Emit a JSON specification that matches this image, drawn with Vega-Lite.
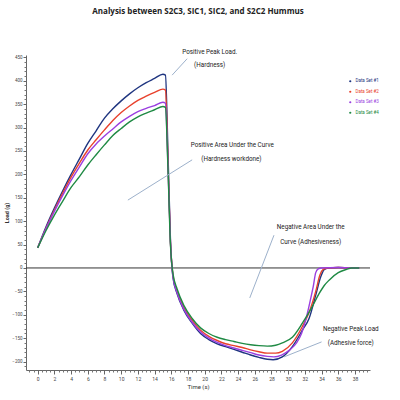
{
  "$schema": "https://vega.github.io/schema/vega-lite/v6.json",
  "autosize": "none",
  "width": 344,
  "height": 315,
  "padding": {"left": 26, "top": 55, "right": 30, "bottom": 30},
  "background": "white",
  "title": {"text": "Analysis between S2C3, SIC1, SIC2, and S2C2 Hummus", "fontSize": 8, "fontWeight": "bold", "font": "Open Sans, Roboto, sans-serif", "color": "#222", "offset": 33, "anchor": "middle"},
  "config": {"view": {"stroke": null}, "font": "Roboto, sans-serif"},
  "resolve": {"axis": {"x": "independent", "y": "independent"}},
  "datasets": {
    "curves": [
      {"t": 0, "load": 43, "set": "Data Set #1"}, {"t": 1, "load": 88, "set": "Data Set #1"}, {"t": 2, "load": 128, "set": "Data Set #1"}, {"t": 3, "load": 165, "set": "Data Set #1"}, {"t": 4, "load": 200, "set": "Data Set #1"}, {"t": 5, "load": 233, "set": "Data Set #1"}, {"t": 6, "load": 266, "set": "Data Set #1"}, {"t": 7, "load": 293, "set": "Data Set #1"}, {"t": 8, "load": 320, "set": "Data Set #1"}, {"t": 9, "load": 340, "set": "Data Set #1"}, {"t": 10, "load": 357, "set": "Data Set #1"}, {"t": 11, "load": 372, "set": "Data Set #1"}, {"t": 12, "load": 385, "set": "Data Set #1"}, {"t": 13, "load": 396, "set": "Data Set #1"}, {"t": 14, "load": 405, "set": "Data Set #1"}, {"t": 15, "load": 414, "set": "Data Set #1"}, {"t": 15.3, "load": 412, "set": "Data Set #1"}, {"t": 15.6, "load": 250, "set": "Data Set #1"}, {"t": 15.9, "load": 60, "set": "Data Set #1"}, {"t": 16.2, "load": -20, "set": "Data Set #1"}, {"t": 16.7, "load": -55, "set": "Data Set #1"}, {"t": 17.5, "load": -90, "set": "Data Set #1"}, {"t": 18.5, "load": -118, "set": "Data Set #1"}, {"t": 19.5, "load": -140, "set": "Data Set #1"}, {"t": 20.5, "load": -153, "set": "Data Set #1"}, {"t": 21.5, "load": -162, "set": "Data Set #1"}, {"t": 22.5, "load": -168, "set": "Data Set #1"}, {"t": 23.5, "load": -174, "set": "Data Set #1"}, {"t": 24.5, "load": -180, "set": "Data Set #1"}, {"t": 25.5, "load": -186, "set": "Data Set #1"}, {"t": 26.5, "load": -191, "set": "Data Set #1"}, {"t": 27.5, "load": -195, "set": "Data Set #1"}, {"t": 28.2, "load": -196, "set": "Data Set #1"}, {"t": 29.3, "load": -190, "set": "Data Set #1"}, {"t": 30.5, "load": -168, "set": "Data Set #1"}, {"t": 31.7, "load": -133, "set": "Data Set #1"}, {"t": 32.5, "load": -108, "set": "Data Set #1"}, {"t": 33.3, "load": -58, "set": "Data Set #1"}, {"t": 33.9, "load": -19, "set": "Data Set #1"}, {"t": 34.3, "load": -4, "set": "Data Set #1"}, {"t": 34.8, "load": 0, "set": "Data Set #1"}, {"t": 36, "load": 1, "set": "Data Set #1"}, {"t": 37.5, "load": 0, "set": "Data Set #1"}, {"t": 38.5, "load": 0, "set": "Data Set #1"},

      {"t": 0, "load": 43, "set": "Data Set #2"}, {"t": 1, "load": 85, "set": "Data Set #2"}, {"t": 2, "load": 124, "set": "Data Set #2"}, {"t": 3, "load": 160, "set": "Data Set #2"}, {"t": 4, "load": 194, "set": "Data Set #2"}, {"t": 5, "load": 224, "set": "Data Set #2"}, {"t": 6, "load": 252, "set": "Data Set #2"}, {"t": 7, "load": 274, "set": "Data Set #2"}, {"t": 8, "load": 295, "set": "Data Set #2"}, {"t": 9, "load": 315, "set": "Data Set #2"}, {"t": 10, "load": 332, "set": "Data Set #2"}, {"t": 11, "load": 346, "set": "Data Set #2"}, {"t": 12, "load": 358, "set": "Data Set #2"}, {"t": 13, "load": 367, "set": "Data Set #2"}, {"t": 14, "load": 375, "set": "Data Set #2"}, {"t": 15, "load": 382, "set": "Data Set #2"}, {"t": 15.3, "load": 380, "set": "Data Set #2"}, {"t": 15.6, "load": 230, "set": "Data Set #2"}, {"t": 15.9, "load": 55, "set": "Data Set #2"}, {"t": 16.2, "load": -15, "set": "Data Set #2"}, {"t": 16.7, "load": -50, "set": "Data Set #2"}, {"t": 17.5, "load": -85, "set": "Data Set #2"}, {"t": 18.5, "load": -112, "set": "Data Set #2"}, {"t": 19.5, "load": -133, "set": "Data Set #2"}, {"t": 20.5, "load": -146, "set": "Data Set #2"}, {"t": 21.5, "load": -155, "set": "Data Set #2"}, {"t": 22.5, "load": -162, "set": "Data Set #2"}, {"t": 23.5, "load": -166, "set": "Data Set #2"}, {"t": 24.5, "load": -170, "set": "Data Set #2"}, {"t": 25.5, "load": -175, "set": "Data Set #2"}, {"t": 26.5, "load": -179, "set": "Data Set #2"}, {"t": 27.5, "load": -182, "set": "Data Set #2"}, {"t": 28.5, "load": -182, "set": "Data Set #2"}, {"t": 29.3, "load": -178, "set": "Data Set #2"}, {"t": 30.5, "load": -160, "set": "Data Set #2"}, {"t": 31.7, "load": -125, "set": "Data Set #2"}, {"t": 32.5, "load": -95, "set": "Data Set #2"}, {"t": 33.3, "load": -50, "set": "Data Set #2"}, {"t": 33.8, "load": -15, "set": "Data Set #2"}, {"t": 34.2, "load": -3, "set": "Data Set #2"}, {"t": 34.7, "load": 0, "set": "Data Set #2"}, {"t": 36, "load": 1, "set": "Data Set #2"}, {"t": 37.5, "load": 0, "set": "Data Set #2"}, {"t": 38.5, "load": 0, "set": "Data Set #2"},

      {"t": 0, "load": 43, "set": "Data Set #3"}, {"t": 1, "load": 84, "set": "Data Set #3"}, {"t": 2, "load": 121, "set": "Data Set #3"}, {"t": 3, "load": 155, "set": "Data Set #3"}, {"t": 4, "load": 187, "set": "Data Set #3"}, {"t": 5, "load": 216, "set": "Data Set #3"}, {"t": 6, "load": 244, "set": "Data Set #3"}, {"t": 7, "load": 265, "set": "Data Set #3"}, {"t": 8, "load": 282, "set": "Data Set #3"}, {"t": 9, "load": 297, "set": "Data Set #3"}, {"t": 10, "load": 312, "set": "Data Set #3"}, {"t": 11, "load": 324, "set": "Data Set #3"}, {"t": 12, "load": 334, "set": "Data Set #3"}, {"t": 13, "load": 341, "set": "Data Set #3"}, {"t": 14, "load": 347, "set": "Data Set #3"}, {"t": 15, "load": 354, "set": "Data Set #3"}, {"t": 15.3, "load": 352, "set": "Data Set #3"}, {"t": 15.6, "load": 220, "set": "Data Set #3"}, {"t": 15.9, "load": 55, "set": "Data Set #3"}, {"t": 16.2, "load": -18, "set": "Data Set #3"}, {"t": 16.7, "load": -53, "set": "Data Set #3"}, {"t": 17.5, "load": -88, "set": "Data Set #3"}, {"t": 18.5, "load": -116, "set": "Data Set #3"}, {"t": 19.5, "load": -137, "set": "Data Set #3"}, {"t": 20.5, "load": -150, "set": "Data Set #3"}, {"t": 21.5, "load": -159, "set": "Data Set #3"}, {"t": 22.5, "load": -166, "set": "Data Set #3"}, {"t": 23.5, "load": -171, "set": "Data Set #3"}, {"t": 24.5, "load": -176, "set": "Data Set #3"}, {"t": 25.5, "load": -181, "set": "Data Set #3"}, {"t": 26.5, "load": -186, "set": "Data Set #3"}, {"t": 27.5, "load": -189, "set": "Data Set #3"}, {"t": 28.3, "load": -190, "set": "Data Set #3"}, {"t": 29.2, "load": -186, "set": "Data Set #3"}, {"t": 30.2, "load": -175, "set": "Data Set #3"}, {"t": 31, "load": -160, "set": "Data Set #3"}, {"t": 31.6, "load": -140, "set": "Data Set #3"}, {"t": 32.2, "load": -104, "set": "Data Set #3"}, {"t": 32.7, "load": -65, "set": "Data Set #3"}, {"t": 33, "load": -40, "set": "Data Set #3"}, {"t": 33.3, "load": -10, "set": "Data Set #3"}, {"t": 33.6, "load": -2, "set": "Data Set #3"}, {"t": 34, "load": 0, "set": "Data Set #3"}, {"t": 36, "load": 1, "set": "Data Set #3"}, {"t": 37.5, "load": 0, "set": "Data Set #3"}, {"t": 38.5, "load": 0, "set": "Data Set #3"},

      {"t": 0, "load": 43, "set": "Data Set #4"}, {"t": 1, "load": 80, "set": "Data Set #4"}, {"t": 2, "load": 113, "set": "Data Set #4"}, {"t": 3, "load": 143, "set": "Data Set #4"}, {"t": 4, "load": 172, "set": "Data Set #4"}, {"t": 5, "load": 195, "set": "Data Set #4"}, {"t": 6, "load": 220, "set": "Data Set #4"}, {"t": 7, "load": 242, "set": "Data Set #4"}, {"t": 8, "load": 263, "set": "Data Set #4"}, {"t": 9, "load": 283, "set": "Data Set #4"}, {"t": 10, "load": 298, "set": "Data Set #4"}, {"t": 11, "load": 312, "set": "Data Set #4"}, {"t": 12, "load": 323, "set": "Data Set #4"}, {"t": 13, "load": 331, "set": "Data Set #4"}, {"t": 14, "load": 338, "set": "Data Set #4"}, {"t": 15, "load": 345, "set": "Data Set #4"}, {"t": 15.3, "load": 343, "set": "Data Set #4"}, {"t": 15.6, "load": 215, "set": "Data Set #4"}, {"t": 15.9, "load": 50, "set": "Data Set #4"}, {"t": 16.2, "load": -12, "set": "Data Set #4"}, {"t": 16.7, "load": -45, "set": "Data Set #4"}, {"t": 17.5, "load": -80, "set": "Data Set #4"}, {"t": 18.5, "load": -108, "set": "Data Set #4"}, {"t": 19.5, "load": -128, "set": "Data Set #4"}, {"t": 20.5, "load": -140, "set": "Data Set #4"}, {"t": 21.5, "load": -148, "set": "Data Set #4"}, {"t": 22.5, "load": -153, "set": "Data Set #4"}, {"t": 23.5, "load": -157, "set": "Data Set #4"}, {"t": 24.5, "load": -161, "set": "Data Set #4"}, {"t": 25.5, "load": -164, "set": "Data Set #4"}, {"t": 26.5, "load": -166, "set": "Data Set #4"}, {"t": 27.5, "load": -167, "set": "Data Set #4"}, {"t": 28.5, "load": -165, "set": "Data Set #4"}, {"t": 29.3, "load": -160, "set": "Data Set #4"}, {"t": 30.5, "load": -148, "set": "Data Set #4"}, {"t": 31.7, "load": -118, "set": "Data Set #4"}, {"t": 32.9, "load": -82, "set": "Data Set #4"}, {"t": 33.7, "load": -55, "set": "Data Set #4"}, {"t": 34.3, "load": -38, "set": "Data Set #4"}, {"t": 34.9, "load": -26, "set": "Data Set #4"}, {"t": 36, "load": -10, "set": "Data Set #4"}, {"t": 37, "load": -3, "set": "Data Set #4"}, {"t": 37.6, "load": 0, "set": "Data Set #4"}, {"t": 38.5, "load": 0, "set": "Data Set #4"}
    ],
    "notes": [
      {"t": 20.6, "load": 461, "label": "Positive Peak Load."},
      {"t": 20.6, "load": 434, "label": "(Hardness)"},
      {"t": 23.3, "load": 263, "label": "Positive Area Under the Curve"},
      {"t": 23.2, "load": 233, "label": "(Hardness workdone)"},
      {"t": 32.7, "load": 88, "label": "Negative Area Under the"},
      {"t": 32.7, "load": 56, "label": "Curve (Adhesiveness)"},
      {"t": 37.5, "load": -130, "label": "Negative Peak Load"},
      {"t": 37.5, "load": -160, "label": "(Adhesive force)"}
    ],
    "arrows": [
      {"t": 17.9, "load": 447, "t2": 16.1, "load2": 412},
      {"t": 18.5, "load": 231, "t2": 10.8, "load2": 145},
      {"t": 28.3, "load": 70, "t2": 25.4, "load2": -64},
      {"t": 34.0, "load": -158, "t2": 29.5, "load2": -190}
    ]
  },
  "layer": [
    {
      "data": {"values": [{"zero": 0}]},
      "mark": {"type": "rule", "color": "#333", "strokeWidth": 1},
      "encoding": {"y": {"field": "zero", "type": "quantitative", "axis": null}}
    },
    {
      "data": {"name": "curves"},
      "mark": {"type": "line", "strokeWidth": 1.4, "interpolate": "monotone"},
      "encoding": {
        "x": {"field": "t", "type": "quantitative", "scale": {"domain": [-1.4, 39.8], "nice": false, "zero": false},
          "axis": {"orient": "bottom", "values": [0,2,4,6,8,10,12,14,16,18,20,22,24,26,28,30,32,34,36,38], "labelOverlap": false, "labelFontSize": 5, "labelColor": "#444", "labelPadding": 2,
            "tickSize": 4, "tickColor": "#666", "domainColor": "#666", "grid": false,
            "title": "Time (s)", "titleFontSize": 6, "titleFontWeight": "normal", "titleColor": "#333", "titlePadding": 2}},
        "y": {"field": "load", "type": "quantitative", "scale": {"domain": [-218, 455], "nice": false, "zero": false},
          "axis": {"orient": "left", "values": [-200,-150,-100,-50,0,50,100,150,200,250,300,350,400,450], "labelOverlap": false, "labelFontSize": 4.5, "labelColor": "#444", "labelPadding": 1,
            "tickSize": 3, "tickColor": "#666", "domainColor": "#666", "grid": false,
            "title": "Load (g)", "titleFontSize": 5.5, "titleFontWeight": "bold", "titleColor": "#333", "titlePadding": 2}},
        "color": {"field": "set", "type": "nominal",
          "scale": {"domain": ["Data Set #1", "Data Set #2", "Data Set #3", "Data Set #4"], "range": ["#1f3580", "#e8412c", "#9a3fe0", "#1f8a44"]},
          "legend": {"title": null, "orient": "none", "legendX": 322, "legendY": 24, "labelFontSize": 4.5, "symbolType": "circle", "symbolSize": 5, "symbolStrokeWidth": 0, "rowPadding": 5.5, "labelOffset": 3,
            "encode": {"labels": {"update": {"fill": {"scale": "color", "field": "value"}}}, "symbols": {"update": {"fill": {"scale": "color", "field": "value"}}}}}}
      }
    },
    {
      "data": {"name": "arrows"},
      "mark": {"type": "rule", "color": "#9db1cb", "strokeWidth": 1},
      "encoding": {
        "x": {"field": "t", "type": "quantitative",
          "axis": {"orient": "bottom", "values": [-1,-0.5,0.5,1,1.5,2.5,3,3.5,4.5,5,5.5,6.5,7,7.5,8.5,9,9.5,10.5,11,11.5,12.5,13,13.5,14.5,15,15.5,16.5,17,17.5,18.5,19,19.5,20.5,21,21.5,22.5,23,23.5,24.5,25,25.5,26.5,27,27.5,28.5,29,29.5,30.5,31,31.5,32.5,33,33.5,34.5,35,35.5,36.5,37,37.5,38.5,39,39.5], "labels": false, "domain": false, "tickSize": 2, "tickColor": "#777", "grid": false, "title": null}},
        "y": {"field": "load", "type": "quantitative",
          "axis": {"orient": "left", "values": [-210,-190,-180,-170,-160,-140,-130,-120,-110,-90,-80,-70,-60,-40,-30,-20,-10,10,20,30,40,60,70,80,90,110,120,130,140,160,170,180,190,210,220,230,240,260,270,280,290,310,320,330,340,360,370,380,390,410,420,430,440], "labels": false, "domain": false, "tickSize": 2, "tickColor": "#777", "grid": false, "title": null}},
        "x2": {"field": "t2"},
        "y2": {"field": "load2"}
      }
    },
    {
      "data": {"name": "notes"},
      "mark": {"type": "text", "fontSize": 6.3, "color": "#222", "align": "center", "baseline": "middle"},
      "encoding": {
        "x": {"field": "t", "type": "quantitative", "axis": null},
        "y": {"field": "load", "type": "quantitative", "axis": null},
        "text": {"field": "label"}
      }
    }
  ]
}
